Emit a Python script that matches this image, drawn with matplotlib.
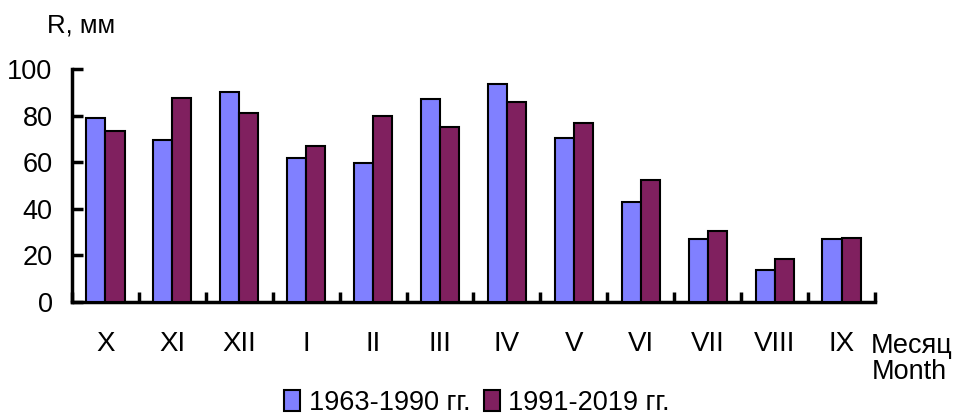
import matplotlib
matplotlib.use("Agg")
import matplotlib.pyplot as plt
import numpy as np

plt.rcParams['font.family'] = ['Liberation Sans', 'DejaVu Sans']

months = ['X', 'XI', 'XII', 'I', 'II', 'III', 'IV', 'V', 'VI', 'VII', 'VIII', 'IX']
r_1963_1990 = [79.1, 69.5, 90.1, 61.9, 59.8, 87.3, 93.4, 70.2, 42.8, 26.9, 13.9, 26.9]
r_1991_2019 = [73.5, 87.4, 81.1, 66.8, 79.8, 75.1, 86.0, 77.0, 52.4, 30.3, 18.6, 27.6]
labels = ['1963-1990 гг.', '1991-2019 гг.']
yticks = [0, 20, 40, 60, 80, 100]

fig = plt.figure(figsize=(9.54, 4.16), dpi=100)
ax = fig.add_axes([72/954, 1-302/416, (875-72)/954, (302-69)/416])

x = np.arange(len(months))
w = 0.285
ax.bar(x - w/2, r_1963_1990, w, color='#8080FF', edgecolor='black', linewidth=1.5, label=labels[0], zorder=3)
ax.bar(x + w/2, r_1991_2019, w, color='#80205F', edgecolor='black', linewidth=1.5, label=labels[1], zorder=3)

ax.set_xlim(-0.5, len(months) - 0.5)
ax.set_ylim(0, 100)
ax.set_yticks(yticks)
ax.set_yticklabels([str(v) for v in yticks], fontsize=19.5)
ax.tick_params(axis='y', direction='in', length=8, width=2.5, pad=14)

ax.set_xticks(x)
ax.set_xticklabels(months, fontsize=20)
ax.tick_params(axis='x', length=0, pad=21)
ax.set_xticks(np.arange(len(months) + 1) - 0.5, minor=True)
ax.tick_params(axis='x', which='minor', direction='in', length=7, width=2.5)

for s in ['top', 'right']:
    ax.spines[s].set_visible(False)
for s in ['left', 'bottom']:
    ax.spines[s].set_linewidth(2.5)

fig.text(47/954, 1-26/416, 'R, мм', fontsize=18.5, va='center', ha='left')
fig.text(953/954, 1-346/416, 'Месяц', fontsize=19.5, va='center', ha='right')
fig.text(947/954, 1-372/416, 'Month', fontsize=19.5, va='center', ha='right')

fig.legend(loc='center', bbox_to_anchor=(0.5, 1-403/416), ncol=2, frameon=False,
           fontsize=19.5, handlelength=0.6, handleheight=0.8, handletextpad=0.3,
           columnspacing=0.5, borderpad=0)

fig.savefig('out.png', dpi=100)
